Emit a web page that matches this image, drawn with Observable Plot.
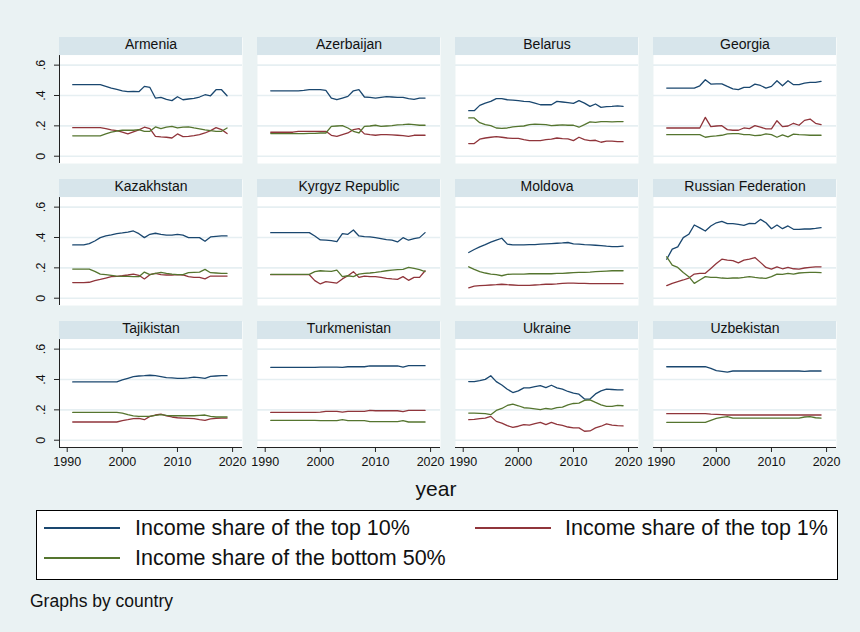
<!DOCTYPE html>
<html><head><meta charset="utf-8">
<script src="https://cdn.jsdelivr.net/npm/d3@7"></script>
<script src="https://cdn.jsdelivr.net/npm/@observablehq/plot@0.6"></script>
<style>
body{margin:0;background:#eaf2f3;}
#wrap{position:relative;width:860px;height:632px;background:#eaf2f3;font-family:"Liberation Sans",Arial,sans-serif;color:#111;overflow:hidden;}
#chart{position:absolute;left:0;top:0;}
#xl{position:absolute;top:477px;left:336px;width:200px;text-align:center;font-size:21px;line-height:24px;}
#legend{position:absolute;left:36px;top:510px;width:800px;height:68px;background:#fff;border:1px solid #000;}
.item{position:absolute;font-size:21.5px;line-height:24px;white-space:nowrap;}
.sw{position:absolute;height:2px;width:76px;}
#note{position:absolute;left:30px;top:591px;font-size:17.5px;line-height:20px;}
</style></head>
<body><div id="wrap"><div id="chart"></div><div id="xl">year</div><div id="legend"></div><div id="note">Graphs by country</div></div>
<script>
const countries = ["Armenia","Azerbaijan","Belarus","Georgia","Kazakhstan","Kyrgyz Republic","Moldova","Russian Federation","Tajikistan","Turkmenistan","Ukraine","Uzbekistan"];
const years = [1991,1992,1993,1994,1995,1996,1997,1998,1999,2000,2001,2002,2003,2004,2005,2006,2007,2008,2009,2010,2011,2012,2013,2014,2015,2016,2017,2018,2019];
const seriesNames = ["Income share of the top 10%","Income share of the top 1%","Income share of the bottom 50%"];
const seriesColors = ["#1a476f","#90353b","#55752f"];
const yTicks = [0,0.2,0.4,0.6];
const xTicks = [1990,2000,2010,2020];

// Income share of the top 10%, one row per country (same order as countries)
const top10 = [
 [.471,.471,.471,.471,.471,.471,.460,.449,.440,.431,.425,.427,.425,.460,.453,.383,.388,.374,.366,.392,.372,.377,.381,.390,.405,.398,.438,.438,.398],
 [.431,.431,.431,.431,.431,.431,.434,.438,.438,.438,.434,.383,.372,.383,.394,.431,.438,.390,.388,.383,.388,.392,.390,.388,.388,.379,.374,.383,.383],
 [.300,.300,.335,.350,.361,.379,.379,.372,.370,.366,.361,.359,.350,.339,.339,.339,.361,.357,.353,.348,.366,.350,.328,.344,.322,.326,.328,.331,.328],
 [.449,.449,.449,.449,.449,.449,.464,.504,.475,.477,.477,.460,.444,.438,.453,.453,.475,.466,.449,.460,.497,.464,.497,.471,.471,.482,.486,.486,.493],
 [.351,.351,.351,.360,.377,.399,.410,.417,.425,.430,.436,.443,.425,.399,.421,.428,.421,.415,.415,.421,.415,.399,.399,.399,.375,.404,.408,.410,.410],
 [.432,.432,.432,.432,.432,.432,.432,.432,.410,.384,.382,.380,.373,.425,.421,.449,.410,.406,.404,.399,.393,.386,.382,.371,.399,.382,.393,.399,.432],
 [.301,.321,.338,.353,.369,.382,.395,.356,.351,.351,.351,.353,.353,.356,.358,.360,.362,.364,.367,.358,.356,.353,.351,.349,.347,.343,.340,.340,.343],
 [.257,.323,.338,.399,.421,.482,.463,.443,.476,.497,.506,.491,.491,.487,.480,.493,.491,.519,.497,.458,.482,.458,.476,.454,.454,.456,.456,.460,.465],
 [.384,.384,.384,.384,.384,.384,.384,.384,.384,.397,.408,.419,.423,.425,.428,.425,.419,.412,.410,.408,.408,.410,.415,.412,.408,.421,.423,.425,.425],
 [.480,.480,.480,.480,.480,.480,.480,.480,.480,.482,.482,.482,.482,.480,.484,.484,.484,.484,.489,.489,.489,.489,.489,.489,.482,.491,.491,.491,.491],
 [.386,.386,.393,.401,.425,.386,.364,.336,.314,.325,.345,.345,.353,.360,.347,.362,.345,.336,.321,.310,.303,.271,.271,.305,.325,.336,.334,.332,.332],
 [.484,.484,.484,.484,.484,.484,.484,.484,.473,.458,.454,.449,.456,.456,.456,.456,.456,.456,.456,.456,.456,.456,.456,.456,.456,.454,.456,.456,.456]
];
// Income share of the top 1%
const top1 = [
 [.188,.188,.188,.188,.188,.188,.182,.173,.169,.158,.147,.160,.173,.191,.182,.131,.127,.125,.120,.147,.129,.131,.136,.142,.153,.169,.188,.175,.149],
 [.158,.158,.158,.158,.158,.164,.164,.164,.164,.164,.164,.138,.131,.142,.153,.175,.182,.147,.142,.138,.142,.142,.140,.138,.136,.131,.138,.138,.138],
 [.083,.083,.112,.120,.125,.129,.125,.120,.118,.118,.109,.103,.103,.103,.109,.112,.120,.116,.114,.103,.125,.109,.103,.105,.092,.099,.099,.096,.096],
 [.186,.186,.186,.186,.186,.186,.186,.256,.195,.199,.201,.175,.171,.171,.186,.182,.201,.191,.180,.180,.234,.195,.199,.217,.204,.236,.245,.217,.208],
 [.103,.103,.103,.105,.116,.124,.133,.142,.144,.148,.153,.159,.151,.127,.155,.164,.155,.153,.153,.155,.153,.142,.137,.137,.127,.146,.146,.146,.146],
 [.155,.155,.155,.155,.155,.155,.155,.155,.116,.094,.109,.105,.100,.127,.148,.175,.137,.146,.142,.142,.137,.131,.127,.124,.142,.118,.137,.137,.181],
 [.068,.079,.083,.085,.087,.089,.092,.089,.087,.085,.085,.085,.087,.089,.092,.092,.094,.098,.100,.100,.098,.098,.096,.096,.096,.096,.096,.096,.096],
 [.083,.098,.109,.120,.133,.159,.164,.164,.196,.229,.257,.251,.247,.233,.251,.257,.268,.236,.203,.192,.207,.194,.203,.194,.192,.199,.203,.207,.207],
 [.120,.120,.120,.120,.120,.120,.120,.120,.120,.129,.135,.142,.144,.135,.157,.166,.172,.161,.153,.148,.146,.144,.142,.135,.131,.140,.144,.146,.146],
 [.183,.183,.183,.183,.183,.183,.183,.183,.183,.185,.190,.190,.190,.185,.190,.190,.190,.190,.196,.194,.194,.194,.194,.194,.188,.196,.196,.196,.196],
 [.135,.137,.142,.146,.157,.124,.113,.096,.085,.092,.103,.100,.109,.118,.103,.118,.105,.098,.087,.081,.081,.059,.061,.081,.092,.107,.100,.096,.094],
 [.175,.175,.175,.175,.175,.175,.175,.175,.172,.170,.168,.166,.166,.166,.166,.166,.166,.166,.166,.166,.166,.166,.166,.166,.166,.166,.166,.166,.166]
];
// Income share of the bottom 50%
const bottom50 = [
 [.134,.134,.134,.134,.134,.134,.147,.158,.166,.171,.171,.171,.175,.164,.164,.193,.182,.191,.197,.186,.191,.193,.186,.180,.173,.169,.164,.164,.186],
 [.149,.149,.149,.149,.149,.149,.149,.151,.151,.153,.153,.197,.199,.201,.186,.164,.153,.197,.199,.204,.197,.199,.201,.206,.208,.212,.208,.204,.204],
 [.252,.252,.221,.208,.201,.186,.184,.186,.193,.197,.199,.208,.212,.210,.208,.201,.204,.206,.204,.204,.191,.208,.226,.223,.228,.228,.226,.228,.228],
 [.142,.142,.142,.142,.142,.142,.142,.125,.131,.134,.138,.147,.149,.149,.142,.142,.136,.138,.147,.142,.125,.140,.127,.145,.142,.140,.138,.138,.138],
 [.192,.192,.192,.192,.177,.159,.155,.151,.146,.144,.144,.142,.142,.172,.155,.164,.170,.164,.159,.155,.155,.168,.170,.172,.190,.168,.166,.164,.164],
 [.157,.157,.157,.157,.157,.157,.157,.157,.175,.181,.179,.177,.185,.142,.148,.142,.159,.164,.166,.170,.175,.181,.185,.188,.190,.203,.196,.188,.175],
 [.207,.190,.175,.166,.159,.155,.148,.157,.159,.159,.159,.161,.161,.161,.161,.161,.164,.164,.166,.168,.170,.170,.172,.175,.177,.179,.181,.181,.181],
 [.273,.218,.203,.170,.142,.098,.120,.142,.137,.137,.133,.131,.133,.133,.137,.142,.137,.133,.131,.142,.159,.157,.164,.159,.166,.168,.170,.170,.168],
 [.183,.183,.183,.183,.183,.183,.183,.183,.183,.179,.168,.161,.157,.157,.157,.164,.168,.164,.161,.161,.161,.161,.161,.164,.166,.157,.153,.153,.153],
 [.131,.131,.131,.131,.131,.131,.131,.131,.131,.129,.129,.129,.129,.135,.129,.129,.129,.129,.122,.122,.122,.122,.122,.122,.129,.120,.120,.120,.120],
 [.179,.179,.177,.175,.168,.196,.209,.229,.238,.227,.214,.212,.207,.201,.209,.205,.214,.218,.233,.242,.244,.262,.266,.249,.233,.223,.223,.229,.227],
 [.118,.118,.118,.118,.118,.118,.118,.118,.131,.144,.151,.155,.146,.146,.146,.146,.146,.146,.146,.146,.146,.146,.146,.146,.146,.153,.155,.148,.146]
];

const NCOL = 4;
const cells = countries.map((c, i) => ({country: c, col: i % NCOL, row: Math.floor(i / NCOL)}));
const rows = [];
[top10, top1, bottom50].forEach((s, k) => s.forEach((vals, i) => vals.forEach((v, j) => rows.push({
  series: seriesNames[k], country: countries[i], col: i % NCOL, row: Math.floor(i / NCOL), year: years[j], value: v
}))));

const xDom = [1988.6, 2021.8];
const yDom = [-0.048, 0.782];
const stripY = 0.663;
const fmtY = d => d === 0 ? "0" : String(d).replace(/^0/, "");

const chart = Plot.plot({
  width: 860, height: 505,
  marginLeft: 58, marginRight: 22, marginTop: 36, marginBottom: 57,
  style: {fontFamily: '"Liberation Sans", Arial, sans-serif', fontSize: "12.5px", background: "transparent", color: "#111"},
  fx: {domain: [0,1,2,3], paddingInner: 0.074, paddingOuter: 0, axis: null},
  fy: {domain: [0,1,2], paddingInner: 0.116, paddingOuter: 0, axis: null},
  x: {domain: xDom, label: null},
  y: {domain: yDom, label: null},
  color: {domain: seriesNames, range: seriesColors},
  marks: [
    Plot.frame({fill: "white", stroke: "none"}),
    Plot.rect(cells, {fx: "col", fy: "row", y1: stripY, y2: yDom[1], fill: "#d7e5eb"}),
    Plot.text(cells, {fx: "col", fy: "row", text: "country", frameAnchor: "top", dy: 7.5, lineAnchor: "middle", fontSize: 14, fill: "#111"}),
    Plot.gridY(yTicks, {stroke: "#e6eff2", strokeOpacity: 1, strokeWidth: 1.6}),
    Plot.line(rows, {fx: "col", fy: "row", x: "year", y: "value", z: "series", stroke: "series", strokeWidth: 1.3}),
    Plot.ruleX(cells.filter(d => d.col === 0), {fx: "col", fy: "row", x: xDom[0], y1: yDom[0], y2: stripY, stroke: "#222", strokeWidth: 1}),
    Plot.ruleY(cells.filter(d => d.row === 2), {fx: "col", fy: "row", y: yDom[0], x1: xDom[0], x2: xDom[1], stroke: "#222", strokeWidth: 1}),
    Plot.axisY({ticks: yTicks, tickFormat: fmtY, tickSize: 5, tickRotate: -90, tickPadding: 10, stroke: "#222", fill: "#111", label: null}),
    Plot.axisX({ticks: xTicks, tickFormat: d3.format("d"), tickSize: 5, tickPadding: 5, stroke: "#222", fill: "#111", label: null})
  ]
});
document.getElementById("chart").appendChild(chart);

// legend
const legend = document.getElementById("legend");
const pos = [[7, 98, 5], [438, 528, 5], [7, 98, 35]];
seriesNames.forEach((name, k) => {
  const [lx, tx, ty] = pos[k];
  const sw = document.createElement("div");
  sw.className = "sw"; sw.style.left = lx + "px"; sw.style.top = (ty + 11) + "px"; sw.style.background = seriesColors[k];
  legend.appendChild(sw);
  const t = document.createElement("div");
  t.className = "item"; t.style.left = tx + "px"; t.style.top = ty + "px"; t.textContent = name;
  legend.appendChild(t);
});
</script></body></html>
